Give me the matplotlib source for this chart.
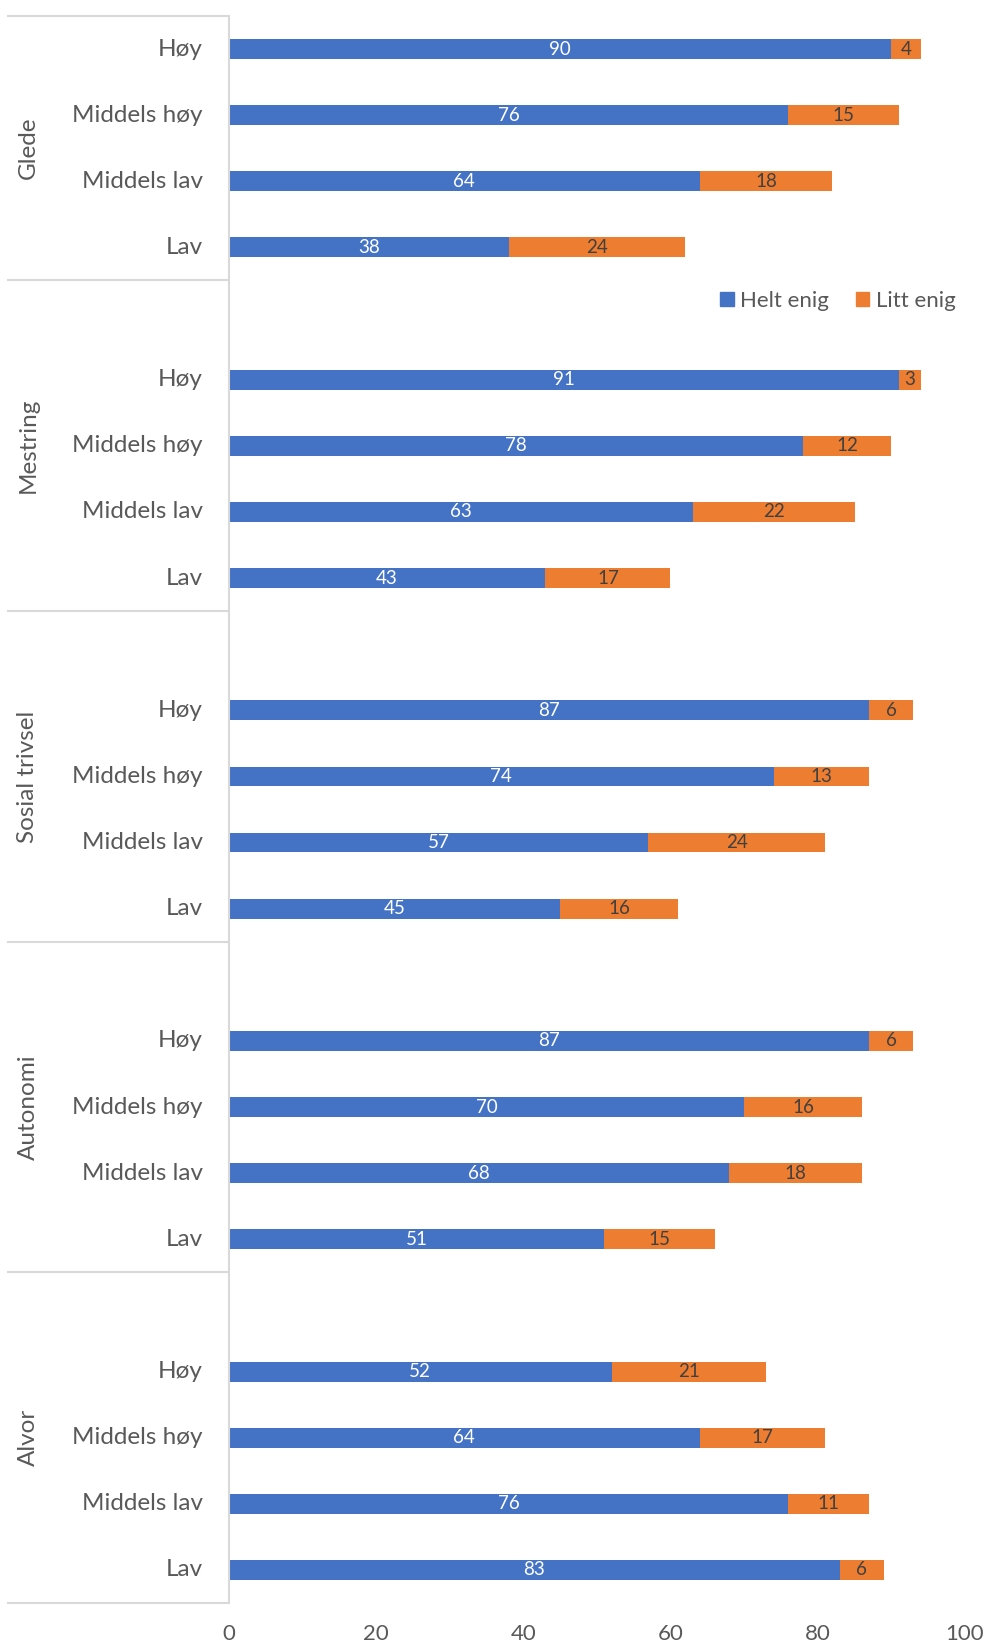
import matplotlib
matplotlib.use("Agg")
import matplotlib.pyplot as plt
import matplotlib.transforms as mtransforms
from matplotlib.patches import Patch

plt.rcParams['font.family'] = ['Lato', 'DejaVu Sans']

groups = ["Glede", "Mestring", "Sosial trivsel", "Autonomi", "Alvor"]
levels = ["Høy", "Middels høy", "Middels lav", "Lav"]

helt_enig = {
    "Glede": [90, 76, 64, 38],
    "Mestring": [91, 78, 63, 43],
    "Sosial trivsel": [87, 74, 57, 45],
    "Autonomi": [87, 70, 68, 51],
    "Alvor": [52, 64, 76, 83],
}
litt_enig = {
    "Glede": [4, 15, 18, 24],
    "Mestring": [3, 12, 22, 17],
    "Sosial trivsel": [6, 13, 24, 16],
    "Autonomi": [6, 16, 18, 15],
    "Alvor": [21, 17, 11, 6],
}

BLUE = "#4472C4"
ORANGE = "#ED7D31"
TEXT = "#595959"
GRID = "#D9D9D9"

fig = plt.figure(figsize=(9.85, 16.44), dpi=100)
ax = fig.add_axes([0.2322, 0.0249, 0.7475, 0.9654])

# each group gets 4 rows plus an empty spacer row (except the top group)
ypos, blue, orange, labels = [], [], [], []
group_spans = []
n_groups = len(groups)
for gi, g in enumerate(groups):
    base = 5 * (n_groups - 1 - gi)
    for li, lev in enumerate(levels):
        ypos.append(base + 3 - li)
        blue.append(helt_enig[g][li])
        orange.append(litt_enig[g][li])
        labels.append(lev)
    top = base + 3.5 if gi == 0 else base + 4.5
    group_spans.append((base - 0.5, top))

h = 0.30
b1 = ax.barh(ypos, blue, height=h, color=BLUE, label="Helt enig")
b2 = ax.barh(ypos, orange, left=blue, height=h, color=ORANGE, label="Litt enig")
ax.bar_label(b1, label_type="center", color="white", fontsize=13.5)
ax.bar_label(b2, label_type="center", color="#404040", fontsize=13.5)

ax.set_xlim(0, 100)
ax.set_ylim(-0.5, 23.5)
ax.set_xticks(range(0, 101, 20))
ax.set_yticks([])
ax.tick_params(axis="x", length=0, pad=15, labelsize=16, labelcolor=TEXT)
for s in ["top", "right", "bottom"]:
    ax.spines[s].set_visible(False)
ax.spines["left"].set_color(GRID)
ax.spines["left"].set_linewidth(1.5)

# category and group labels, plus the separator lines on the left
trans = mtransforms.blended_transform_factory(fig.transFigure, ax.transData)
for y, lab in zip(ypos, labels):
    ax.text(202.5 / 985, y, lab, transform=trans, ha="right", va="center",
            fontsize=17.5, color=TEXT)
edges = set()
for g, (lo, hi) in zip(groups, group_spans):
    ax.text(28 / 985, (lo + hi) / 2, g, transform=trans, rotation=90,
            ha="center", va="center", fontsize=17.5, color=TEXT)
    edges.update([lo, hi])
for e in edges:
    ax.plot([8 / 985, 0.2322], [e, e], transform=trans, color=GRID,
            lw=1.5, clip_on=False)

handles = [Patch(color=BLUE, label="Helt enig"), Patch(color=ORANGE, label="Litt enig")]
fig.legend(handles=handles, loc="center", bbox_to_anchor=(838 / 985, 1 - 301 / 1644),
           ncol=2, frameon=False, fontsize=16, labelcolor=TEXT,
           handlelength=0.6, handleheight=0.6, handletextpad=0.3, columnspacing=1.2)

fig.savefig("out.png", dpi=100, facecolor="white")
